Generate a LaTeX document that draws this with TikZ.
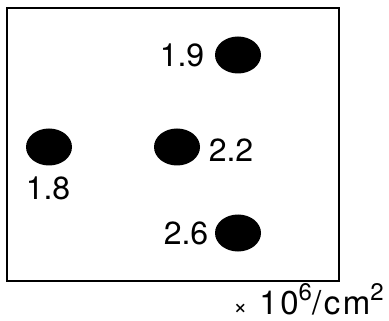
\documentclass[tikz,border=0pt]{standalone}
\usepackage{fontspec}
\setmainfont{TeX Gyre Heros}
\newfontfamily\unitfont[LetterSpace=8]{TeX Gyre Heros}
\usepackage{tikz}
\usetikzlibrary{shapes.geometric, positioning}

\newcommand{\supsize}[1]{\raisebox{0.42em}{\fontsize{24}{26}\selectfont #1}}

\begin{document}
\begin{tikzpicture}[x=1pt, y=-1pt,
        font=\fontsize{32}{36}\selectfont,
        frame/.style    = {rectangle, draw=black, line width=2.2pt},
        spot/.style     = {ellipse, fill=black, draw=none, minimum width=46pt, minimum height=37pt, inner sep=0pt},
        value/.style    = {inner sep=0pt, text=black},
        unit_label/.style={inner sep=0pt, anchor=base east, font=\unitfont\fontsize{33}{36}\selectfont}
    ]
    \useasboundingbox (0,0) rectangle (389,321);

    % --- SAMPLE OUTLINE ---
    \draw[frame] (7,8) rectangle (339,281);

    % --- SPOTS ---
    \node[spot] (spotTop)  at (238, 55)  {};
    \node[spot] (spotLeft) at (49, 147)  {};
    \node[spot] (spotMid)  at (177, 147) {};
    \node[spot] (spotBot)  at (238, 233) {};

    % --- VALUES ---
    \node[value] (valTop)  at (182, 55)  {1.9};
    \node[value] (valLeft) at (48, 188)  {1.8};
    \node[value] (valMid)  at (231, 150) {2.2};
    \node[value] (valBot)  at (186, 233) {2.6};

    % --- UNIT ---
    \node[unit_label] (unit) at (384, 314) {{\fontsize{24}{26}\selectfont ×}\hspace{12pt}10\supsize{6}/cm\supsize{2}};

    \end{tikzpicture}
\end{document}
